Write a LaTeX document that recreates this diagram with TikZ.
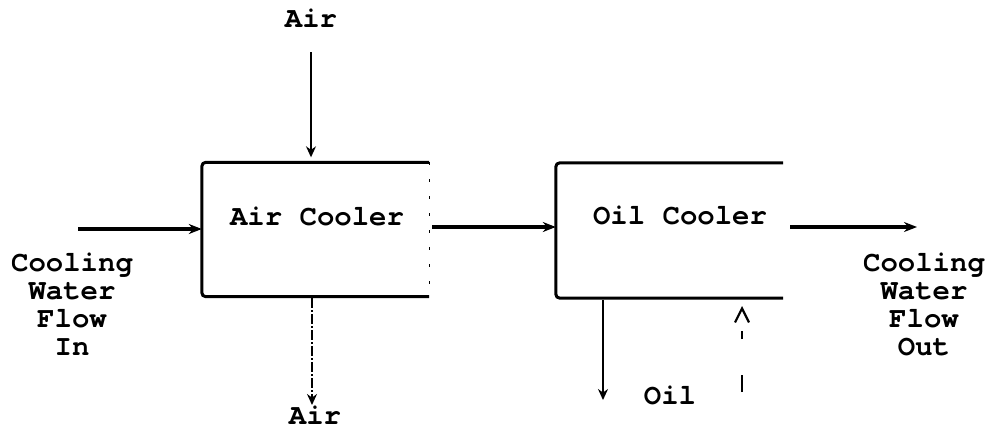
\documentclass[tikz,border=0pt]{standalone}
\usepackage{fontspec}
\setmainfont{TeX Gyre Cursor}
\usetikzlibrary{arrows.meta}
\begin{document}
\begin{tikzpicture}[x=1pt,y=-1pt,
  lbl/.style={font=\bfseries\fontsize{29}{28}\selectfont, inner sep=0pt, align=center},
  water/.style={line width=3.2pt, -{Stealth[length=13pt,width=10pt]}},
  airflow/.style={line width=1.6pt, -{Stealth[length=11pt,width=10pt]}},
  boxline/.style={line width=3pt, rounded corners=4pt},
  unit/.style={minimum width=227pt, minimum height=134pt, inner sep=0pt, draw=none},
]
\useasboundingbox (0,0) rectangle (993,440);
% boxes
\node[unit] (ac) at (315.5,229.5) {};
\node[unit, minimum height=135pt] (oc) at (669.5,230.5) {};
\draw[boxline] (ac.south east) -- (ac.south west) -- (ac.north west) -- (ac.north east);
\draw[line width=1.2pt, dash pattern=on 3pt off 14pt] (ac.north east) -- (ac.south east);
\draw[boxline] (oc.north east) -- (oc.north west) -- (oc.south west) -- (oc.south east);
% texts
\node[lbl] (actext) at (317,216) {Air Cooler};
\node[lbl] (octext) at (680,215) {Oil Cooler};
\node[lbl] (airin) at (311,18) {Air};
\node[lbl] (airout) at (315,415) {Air};
\node[lbl] (oil) at (670,395) {Oil};
\node[lbl] (win) at (72,304) {Cooling\\Water\\Flow\\In};
\node[lbl] (wout) at (924,304) {Cooling\\Water\\Flow\\Out};
% connectors
\coordinate (inS) at (78,229);
\draw[water] (inS) -- (inS -| ac.west);
\coordinate (midS) at (432,227);
\draw[water] (midS) -- (midS -| oc.west);
\coordinate (outS) at (790,227);
\coordinate (outE) at (917,227);
\draw[water] (outS) -- (outE);
\coordinate (a1) at (311,52);
\draw[airflow, shorten >=5pt] (a1) -- (a1 |- ac.north);
\coordinate (a2) at (312,298);
\coordinate (a2e) at (312,405);
\draw[airflow, dash pattern=on 10pt off 2pt on 2pt off 2pt] (a2) -- (a2e);
\coordinate (o1) at (603,300);
\coordinate (o1e) at (603,400);
\draw[airflow] (o1) -- (o1e);
\coordinate (r1) at (742,392);
\coordinate (r1e) at (742,306);
\draw[line width=1.6pt, dash pattern=on 17pt off 36pt on 8pt off 40pt, -{Straight Barb[length=14pt,width=14pt,line width=2.2pt]}] (r1) -- (r1e);
\end{tikzpicture}
\end{document}
